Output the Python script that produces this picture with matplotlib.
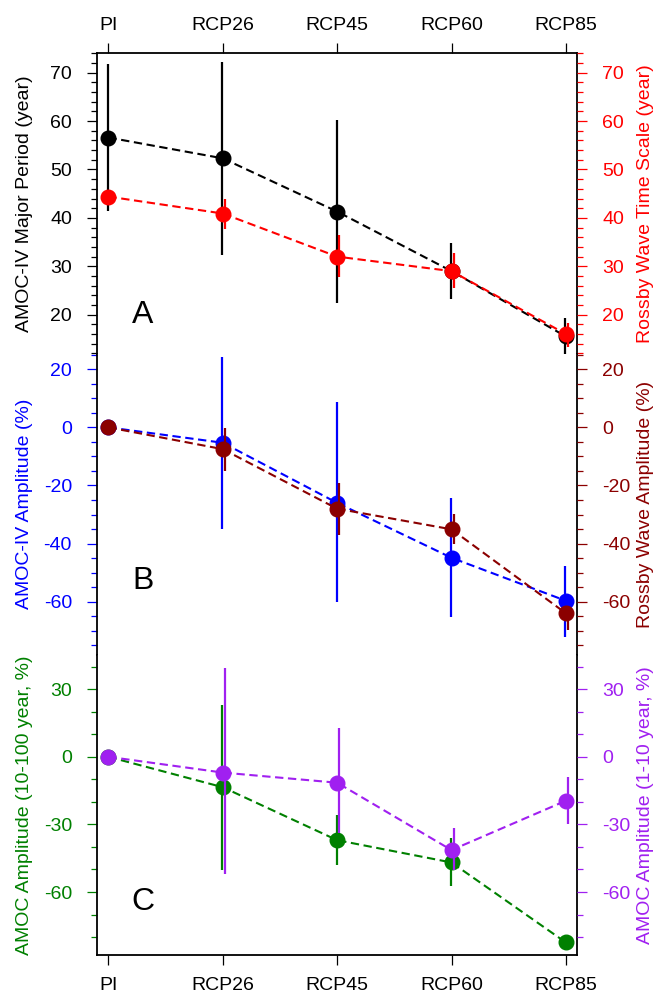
import matplotlib
matplotlib.use("Agg")
import matplotlib.pyplot as plt
from matplotlib.ticker import MultipleLocator

plt.rcParams['font.family'] = ['Liberation Sans', 'DejaVu Sans']
plt.rcParams['axes.unicode_minus'] = False

scenarios = ["PI", "RCP26", "RCP45", "RCP60", "RCP85"]
x = list(range(len(scenarios)))

# panel A: periods (year)
amoc_period = [56.6, 52.3, 41.3, 29.0, 15.5]
amoc_period_hi = [71.8, 72.3, 60.3, 34.9, 19.3]
amoc_period_lo = [41.5, 32.3, 22.4, 23.2, 11.9]
rossby_time = [44.4, 40.9, 32.0, 29.0, 16.0]
rossby_time_hi = [44.4, 43.9, 36.5, 32.7, 18.2]
rossby_time_lo = [44.4, 37.7, 27.8, 25.5, 13.4]

# panel B: amplitude change (%)
amoc_amp = [0.0, -5.3, -26.0, -44.9, -59.7]
amoc_amp_hi = [0.0, 24.3, 8.6, -24.2, -47.6]
amoc_amp_lo = [0.0, -35.0, -60.2, -65.4, -72.1]
rossby_amp = [0.0, -7.5, -28.0, -35.1, -64.0]
rossby_amp_hi = [0.0, -0.3, -19.0, -29.8, -61.4]
rossby_amp_lo = [0.0, -15.0, -37.0, -40.3, -69.8]

# panel C: AMOC amplitude by band (%)
amoc_lowf = [0.0, -13.5, -37.0, -46.9, -82.4]
amoc_lowf_hi = [0.0, 22.9, -26.0, -36.2, -82.4]
amoc_lowf_lo = [0.0, -50.3, -48.1, -57.4, -82.4]
amoc_highf = [0.0, -7.0, -11.5, -41.4, -19.5]
amoc_highf_hi = [0.0, 39.2, 13.0, -31.5, -9.1]
amoc_highf_lo = [0.0, -52.2, -34.0, -50.3, -29.6]

panels = [
    dict(letter="A", letter_y=20, ylim=(11.9, 74.0), major=10, minor=2,
         left=("AMOC-IV Major Period (year)", "black", amoc_period, amoc_period_lo, amoc_period_hi),
         right=("Rossby Wave Time Scale (year)", "red", rossby_time, rossby_time_lo, rossby_time_hi)),
    dict(letter="B", letter_y=-53, ylim=(-78.2, 25.3), major=20, minor=5,
         left=("AMOC-IV Amplitude (%)", "blue", amoc_amp, amoc_amp_lo, amoc_amp_hi),
         right=("Rossby Wave Amplitude (%)", "#8B0000", rossby_amp, rossby_amp_lo, rossby_amp_hi)),
    dict(letter="C", letter_y=-64.5, ylim=(-88.0, 45.4), major=30, minor=10,
         left=("AMOC Amplitude (10-100 year, %)", "#008000", amoc_lowf, amoc_lowf_lo, amoc_lowf_hi),
         right=("AMOC Amplitude (1-10 year, %)", "#A020F0", amoc_highf, amoc_highf_lo, amoc_highf_hi)),
]

W, H = 667, 999
fig = plt.figure(figsize=(W / 100, H / 100), dpi=100)
ax_left = 97 / W
ax_width = 480.3 / W
panel_h = 300.6
top0 = 53.3

fs = 14
for i, p in enumerate(panels):
    top = top0 + i * panel_h
    ax = fig.add_axes([ax_left, 1 - (top + panel_h) / H, ax_width, panel_h / H])
    ax2 = ax.twinx()

    for a, side, dx in ((ax, p["left"], -0.005), (ax2, p["right"], 0.02)):
        label, color, vals, lo, hi = side
        a.plot(x, vals, color=color, lw=1.5, ls=(0, (4, 2.2)), zorder=2)
        a.vlines([xi + dx for xi in x], lo, hi, color=color, lw=1.6, zorder=3)
        a.plot(x, vals, "o", color=color, ms=10.5, zorder=4)
        a.set_ylim(*p["ylim"])
        a.yaxis.set_major_locator(MultipleLocator(p["major"]))
        a.yaxis.set_minor_locator(MultipleLocator(p["minor"]))
        a.tick_params(axis="y", which="major", colors=color, labelcolor=color,
                      length=7, width=0.9, pad=11, labelsize=fs)
        a.tick_params(axis="y", which="minor", colors=color, length=4.3, width=0.9)
        a.set_ylabel(label, color=color, fontsize=fs)

    ax.yaxis.set_label_coords(-0.133, 0.5)
    ax2.yaxis.set_label_coords(1.124, 0.5)
    ax2.yaxis.label.set_rotation(90)

    ax.set_xlim(-0.1, 4.1)
    for s in ax2.spines.values():
        s.set_visible(False)
    for s in ax.spines.values():
        s.set_linewidth(1.3)
    ax.spines["top"].set_visible(i == 0)
    ax.spines["bottom"].set_visible(i == 2)
    ax.set_xticks(x)
    if i == 0:
        ax.xaxis.tick_top()
        ax.set_xticklabels(scenarios)
        ax.tick_params(axis="x", length=7, width=0.9, pad=7, labelsize=fs)
    elif i == 2:
        ax.set_xticklabels(scenarios)
        ax.tick_params(axis="x", length=7, width=0.9, pad=9, labelsize=fs)
    else:
        ax.tick_params(axis="x", which="both", bottom=False, top=False, labelbottom=False)

    ax.text(0.3, p["letter_y"], p["letter"], fontsize=23, ha="center", va="center")

fig.savefig("out.png", dpi=100)
